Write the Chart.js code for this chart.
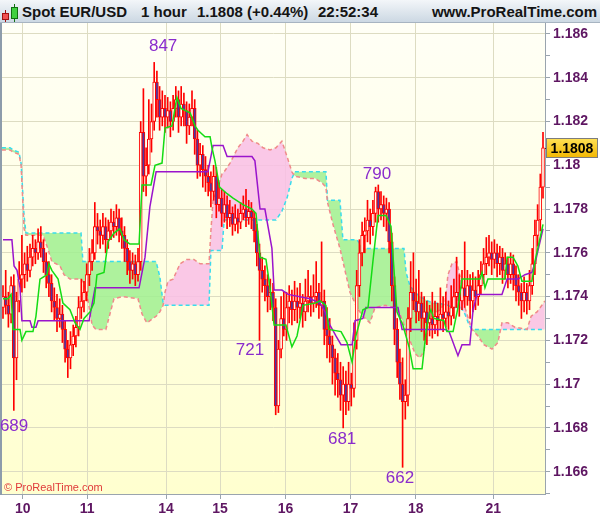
<!DOCTYPE html>
<html>
<head>
<meta charset="utf-8">
<title>Spot EUR/USD - 1 hour</title>
<script src="https://cdn.jsdelivr.net/npm/chart.js@4.4.1/dist/chart.umd.min.js"></script>
<style>
  html, body { margin: 0; padding: 0; background: #fff; }
  #box { position: relative; width: 600px; height: 519px; overflow: hidden; background: #fff; }
  #chart { position: absolute; left: 0; top: 0; }
  #head {
    position: absolute; left: 0; top: 0; width: 600px; height: 22px; z-index: 2;
    background: linear-gradient(#f3f6f9, #ccd8e3); border-bottom: 1px solid #a7b4c1;
    font: bold 15px "Liberation Sans", Arial, sans-serif; color: #141414;
  }
  #head span { position: absolute; top: 3px; line-height: 17px; white-space: nowrap; }
  .ico { position: absolute; box-sizing: border-box; }
</style>
</head>
<body>
<div id="box">
  <canvas id="chart" width="600" height="519"></canvas>
  <div id="head">
    <div class="ico" style="left:5px;top:10px;width:1px;height:12px;background:#a01010"></div>
    <div class="ico" style="left:2px;top:13px;width:7px;height:7px;background:#f05050;border:1px solid #a01010"></div>
    <div class="ico" style="left:14px;top:4px;width:1px;height:18px;background:#107010"></div>
    <div class="ico" style="left:11px;top:7px;width:7px;height:12px;background:#40d040;border:1px solid #107010"></div>
    <span style="left:22px">Spot EUR/USD</span>
    <span style="left:141px">1 hour</span>
    <span id="quote" style="left:197px"></span>
    <span style="left:318px">22:52:34</span>
    <span style="right:3px">www.ProRealTime.com</span>
  </div>
</div>
<script>
// ---- hourly candles (bar 0 .. 200) ----
const opens = [
  1.1735,1.1740,1.1736,1.1732,1.1745,1.1712,1.1738,1.1748,1.1750,1.1755,
  1.1752,1.1758,1.1762,1.1760,1.1765,1.1762,1.1756,1.1750,1.1746,1.1738,
  1.1735,1.1730,1.1732,1.1725,1.1716,1.1712,1.1718,1.1722,1.1726,1.1735,
  1.1738,1.1742,1.1750,1.1756,1.1760,1.1772,1.1770,1.1768,1.1772,1.1766,
  1.1770,1.1774,1.1772,1.1776,1.1770,1.1768,1.1762,1.1756,1.1752,1.1755,
  1.1750,1.1756,1.1815,1.1795,1.1800,1.1812,1.1820,1.1838,1.1830,1.1822,
  1.1826,1.1822,1.1825,1.1820,1.1826,1.1830,1.1822,1.1828,1.1825,1.1818,
  1.1822,1.1826,1.1812,1.1800,1.1805,1.1798,1.1795,1.1792,1.1788,1.1795,
  1.1782,1.1785,1.1778,1.1782,1.1776,1.1778,1.1773,1.1776,1.1774,1.1778,
  1.1780,1.1776,1.1779,1.1776,1.1770,1.1760,1.1752,1.1748,1.1745,1.1740,
  1.1742,1.1735,1.1690,1.1716,1.1730,1.1725,1.1735,1.1738,1.1734,1.1738,
  1.1735,1.1737,1.1733,1.1738,1.1740,1.1737,1.1740,1.1742,1.1736,1.1738,
  1.1725,1.1722,1.1718,1.1712,1.1705,1.1702,1.1695,1.1700,1.1692,1.1700,
  1.1698,1.1720,1.1745,1.1760,1.1768,1.1770,1.1775,1.1772,1.1778,1.1788,
  1.1780,1.1782,1.1778,1.1780,1.1765,1.1745,1.1725,1.1710,1.1700,1.1692,
  1.1695,1.1730,1.1742,1.1738,1.1733,1.1737,1.1730,1.1733,1.1728,1.1730,
  1.1727,1.1731,1.1729,1.1732,1.1730,1.1733,1.1731,1.1735,1.1740,1.1742,
  1.1738,1.1744,1.1740,1.1745,1.1738,1.1743,1.1740,1.1745,1.1750,1.1755,
  1.1758,1.1760,1.1757,1.1760,1.1755,1.1758,1.1752,1.1755,1.1750,1.1755,
  1.1750,1.1745,1.1742,1.1738,1.1742,1.1738,1.1745,1.1755,1.1768,1.1775,
  1.1790
];
const highs = [
  1.1745,1.1752,1.1742,1.1749,1.1750,1.1742,1.1756,1.1768,1.1760,1.1763,
  1.1764,1.1768,1.1766,1.1771,1.1772,1.1766,1.1760,1.1756,1.1750,1.1744,
  1.1741,1.1739,1.1736,1.1729,1.1720,1.1724,1.1727,1.1731,1.1740,1.1748,
  1.1747,1.1755,1.1762,1.1766,1.1783,1.1778,1.1775,1.1778,1.1776,1.1775,
  1.1780,1.1779,1.1782,1.1780,1.1776,1.1772,1.1766,1.1761,1.1760,1.1759,
  1.1762,1.1820,1.1835,1.1808,1.1830,1.1828,1.1847,1.1843,1.1836,1.1834,
  1.1832,1.1831,1.1829,1.1832,1.1836,1.1834,1.1836,1.1833,1.1829,1.1828,
  1.1834,1.1830,1.1816,1.1810,1.1809,1.1804,1.1800,1.1797,1.1800,1.1799,
  1.1792,1.1789,1.1788,1.1786,1.1784,1.1781,1.1782,1.1780,1.1783,1.1786,
  1.1789,1.1784,1.1783,1.1779,1.1773,1.1764,1.1758,1.1754,1.1750,1.1748,
  1.1746,1.1739,1.1720,1.1740,1.1742,1.1742,1.1745,1.1743,1.1747,1.1744,
  1.1746,1.1741,1.1748,1.1752,1.1745,1.1750,1.1756,1.1746,1.1765,1.1743,
  1.1735,1.1730,1.1722,1.1716,1.1714,1.1710,1.1708,1.1706,1.1710,1.1705,
  1.1728,1.1752,1.1766,1.1774,1.1776,1.1784,1.1780,1.1784,1.1790,1.1791,
  1.1788,1.1786,1.1785,1.1783,1.1769,1.1749,1.1730,1.1716,1.1712,1.1702,
  1.1735,1.1756,1.1760,1.1748,1.1752,1.1742,1.1740,1.1738,1.1736,1.1742,
  1.1738,1.1737,1.1744,1.1740,1.1742,1.1738,1.1745,1.1748,1.1758,1.1750,
  1.1752,1.1765,1.1752,1.1750,1.1751,1.1749,1.1752,1.1756,1.1762,1.1767,
  1.1768,1.1765,1.1766,1.1764,1.1763,1.1762,1.1760,1.1758,1.1760,1.1759,
  1.1754,1.1750,1.1746,1.1749,1.1746,1.1752,1.1762,1.1775,1.1782,1.1796,
  1.1815
];
const lows = [
  1.1730,1.1732,1.1726,1.1728,1.1688,1.1702,1.1733,1.1742,1.1744,1.1747,
  1.1749,1.1754,1.1755,1.1757,1.1758,1.1751,1.1744,1.1740,1.1733,1.1729,
  1.1724,1.1726,1.1719,1.1710,1.1703,1.1707,1.1713,1.1717,1.1722,1.1730,
  1.1733,1.1738,1.1745,1.1752,1.1757,1.1764,1.1762,1.1764,1.1760,1.1762,
  1.1766,1.1767,1.1768,1.1765,1.1762,1.1756,1.1750,1.1746,1.1748,1.1745,
  1.1747,1.1752,1.1788,1.1786,1.1796,1.1806,1.1816,1.1822,1.1816,1.1818,
  1.1815,1.1817,1.1813,1.1816,1.1822,1.1815,1.1818,1.1818,1.1810,1.1814,
  1.1818,1.1805,1.1794,1.1795,1.1790,1.1788,1.1786,1.1781,1.1784,1.1776,
  1.1779,1.1772,1.1774,1.1771,1.1772,1.1768,1.1770,1.1769,1.1771,1.1775,
  1.1772,1.1773,1.1771,1.1765,1.1754,1.1720,1.1742,1.1738,1.1733,1.1734,
  1.1729,1.1686,1.1687,1.1712,1.1722,1.1720,1.1728,1.1727,1.1729,1.1728,
  1.1730,1.1726,1.1729,1.1733,1.1731,1.1733,1.1735,1.1730,1.1731,1.1718,
  1.1712,1.1710,1.1700,1.1695,1.1694,1.1688,1.1680,1.1686,1.1688,1.1690,
  1.1694,1.1716,1.1740,1.1754,1.1760,1.1765,1.1764,1.1768,1.1774,1.1774,
  1.1775,1.1772,1.1770,1.1760,1.1738,1.1718,1.1703,1.1693,1.1662,1.1684,
  1.1690,1.1724,1.1734,1.1728,1.1729,1.1724,1.1720,1.1718,1.1722,1.1721,
  1.1723,1.1722,1.1725,1.1724,1.1726,1.1725,1.1727,1.1730,1.1735,1.1731,
  1.1734,1.1735,1.1736,1.1730,1.1733,1.1734,1.1736,1.1741,1.1746,1.1750,
  1.1754,1.1750,1.1753,1.1749,1.1750,1.1746,1.1748,1.1744,1.1746,1.1743,
  1.1738,1.1736,1.1730,1.1733,1.1732,1.1734,1.1741,1.1750,1.1763,1.1770,
  1.1785
];
const closes = [
  1.1740,1.1736,1.1732,1.1745,1.1712,1.1738,1.1748,1.1750,1.1755,1.1752,
  1.1758,1.1762,1.1760,1.1765,1.1762,1.1756,1.1750,1.1746,1.1738,1.1735,
  1.1730,1.1732,1.1725,1.1716,1.1712,1.1718,1.1722,1.1726,1.1735,1.1738,
  1.1742,1.1750,1.1756,1.1760,1.1772,1.1770,1.1768,1.1772,1.1766,1.1770,
  1.1774,1.1772,1.1776,1.1770,1.1768,1.1762,1.1756,1.1752,1.1755,1.1750,
  1.1756,1.1815,1.1795,1.1800,1.1812,1.1820,1.1838,1.1830,1.1822,1.1826,
  1.1822,1.1825,1.1820,1.1826,1.1830,1.1822,1.1828,1.1825,1.1818,1.1822,
  1.1826,1.1812,1.1800,1.1805,1.1798,1.1795,1.1792,1.1788,1.1795,1.1782,
  1.1785,1.1778,1.1782,1.1776,1.1778,1.1773,1.1776,1.1774,1.1778,1.1780,
  1.1776,1.1779,1.1776,1.1770,1.1760,1.1752,1.1748,1.1745,1.1740,1.1742,
  1.1735,1.1690,1.1716,1.1730,1.1725,1.1735,1.1738,1.1734,1.1738,1.1735,
  1.1737,1.1733,1.1738,1.1740,1.1737,1.1740,1.1742,1.1736,1.1738,1.1725,
  1.1722,1.1718,1.1712,1.1705,1.1702,1.1695,1.1700,1.1692,1.1700,1.1698,
  1.1720,1.1745,1.1760,1.1768,1.1770,1.1775,1.1772,1.1778,1.1788,1.1780,
  1.1782,1.1778,1.1780,1.1765,1.1745,1.1725,1.1710,1.1700,1.1692,1.1695,
  1.1730,1.1742,1.1738,1.1733,1.1737,1.1730,1.1733,1.1728,1.1730,1.1727,
  1.1731,1.1729,1.1732,1.1730,1.1733,1.1731,1.1735,1.1740,1.1742,1.1738,
  1.1744,1.1740,1.1745,1.1738,1.1743,1.1740,1.1745,1.1750,1.1755,1.1758,
  1.1760,1.1757,1.1760,1.1755,1.1758,1.1752,1.1755,1.1750,1.1755,1.1750,
  1.1745,1.1742,1.1738,1.1742,1.1738,1.1745,1.1755,1.1768,1.1775,1.1790,
  1.1808
];

// ---- Ichimoku lines, vertices (bar index, price) ----
const tenkanBar = [0,1.9,3.0,3.7,6.3,7.0,8.5,11.1,12.2,13.7,16.3,17.0,18.1,20.4,22.2,24.8,26.7,28.5,30.0,32.2,
  33.7,34.8,37.4,38.9,41.1,43.3,44.8,47.0,50.4,51.5,54.8,56.3,58.9,60.0,62.6,64.4,65.9,69.3,71.1,72.2,
  74.8,76.7,77.4,78.5,80.2,83.0,85.2,88.9,92.2,93.7,95.2,97.4,98.9,100.4,104.8,107.0,108.9,111.1,115.6,117.4,
  119.6,120.7,125.2,127.4,129.3,130.7,133.3,135.2,137.0,138.9,141.9,143.7,145.9,148.1,150.4,151.9,155.2,156.7,157.8,158.5,
  159.6,163.3,164.4,166.7,168.5,170.0,176.7,177.4,178.5,179.6,185.9,186.7,188.9,190.7,192.2,195.9,197.0,200.0];
const tenkanVal = [1.1739,1.1739,1.1741,1.1725,1.1725,1.1720,1.1724,1.1724,1.1731,1.1748,1.1750,1.1755,1.1752,1.1748,1.1737,1.1734,1.1728,1.1725,1.1730,1.1733,
  1.1737,1.1750,1.1751,1.1765,1.1769,1.1771,1.1766,1.1764,1.1764,1.1791,1.1791,1.1800,1.1801,1.1817,1.1818,1.1831,1.1826,1.1824,1.1818,1.1816,
  1.1813,1.1813,1.1808,1.1802,1.1790,1.1787,1.1785,1.1782,1.1780,1.1778,1.1758,1.1757,1.1744,1.1727,1.1727,1.1717,1.1722,1.1736,1.1737,1.1738,
  1.1736,1.1725,1.1724,1.1719,1.1710,1.1722,1.1734,1.1735,1.1756,1.1777,1.1777,1.1772,1.1733,1.1727,1.1717,1.1707,1.1707,1.1724,1.1732,1.1734,
  1.1730,1.1729,1.1724,1.1724,1.1735,1.1748,1.1748,1.1751,1.1744,1.1748,1.1748,1.1758,1.1758,1.1754,1.1747,1.1747,1.1756,1.1773];

const kijunBar = [0,3.3,4.1,5.2,6.3,7.0,10.0,10.7,12.2,13.0,31.9,34.1,50.4,52.6,54.4,56.7,75.9,77.8,81.5,83.0,
  92.2,93.3,95.2,97.0,99.6,100.4,103.3,105.6,113.7,117.4,119.3,121.1,123.3,125.2,129.3,130.4,133.3,134.4,146.3,147.8,
  163.7,165.2,168.5,170.0,172.9,174.1,175.6,184.8,186.7,190.7,193.3,195.9,197.4,200.0];
const kijunVal = [1.1766,1.1766,1.1754,1.1752,1.1744,1.1729,1.1729,1.1726,1.1726,1.1729,1.1729,1.1744,1.1744,1.1758,1.1781,1.1797,1.1797,1.1809,1.1809,1.1804,
  1.1804,1.1802,1.1780,1.1780,1.1762,1.1743,1.1743,1.1741,1.1739,1.1737,1.1733,1.1727,1.1722,1.1718,1.1718,1.1729,1.1730,1.1735,1.1735,1.1725,
  1.1725,1.1724,1.1713,1.1718,1.1718,1.1734,1.1741,1.1741,1.1748,1.1748,1.1750,1.1751,1.1757,1.1771];

const cloudBar = [-0.4,2.6,3.7,5.9,6.7,7.8,8.5,14.8,16.3,18.1,21.1,22.6,24.8,28.9,29.6,31.1,33.0,34.4,38.1,39.6,
  41.1,44.1,50.0,51.5,53.3,56.7,58.1,59.3,60.0,61.1,63.0,65.6,68.1,70.7,73.0,76.3,77.0,77.8,79.6,81.1,
  81.9,84.1,87.0,88.9,90.4,92.2,94.4,96.3,98.9,101.1,103.3,105.2,107.0,108.1,111.9,115.6,118.1,119.6,120.2,122.2,
  124.8,125.9,128.5,131.1,133.3,135.9,137.8,141.5,145.2,147.0,148.5,149.3,150.7,152.6,154.4,155.9,157.4,159.3,161.9,163.7,
  164.8,166.3,168.1,169.6,171.1,172.6,173.7,175.9,178.1,181.1,183.3,184.8,187.0,189.6,194.1,195.6,197.8,200.7];
const spanA = [1.1808,1.1808,1.1807,1.1806,1.1801,1.1777,1.1769,1.1769,1.1769,1.1769,1.1769,1.1769,1.1769,1.1769,1.1756,1.1756,1.1756,1.1756,1.1756,1.1756,
  1.1756,1.1756,1.1756,1.1756,1.1756,1.1756,1.1749,1.1737,1.1736,1.1736,1.1736,1.1736,1.1736,1.1736,1.1736,1.1736,1.1761,1.1761,1.1761,1.1761,
  1.1775,1.1775,1.1775,1.1775,1.1775,1.1775,1.1775,1.1775,1.1775,1.1775,1.1779,1.1785,1.1794,1.1797,1.1797,1.1797,1.1797,1.1797,1.1784,1.1784,
  1.1784,1.1766,1.1766,1.1766,1.1762,1.1762,1.1762,1.1762,1.1762,1.1762,1.1762,1.1751,1.1745,1.1742,1.1740,1.1739,1.1738,1.1737,1.1737,1.1736,
  1.1736,1.1735,1.1735,1.1735,1.1732,1.1727,1.1725,1.1725,1.1725,1.1725,1.1725,1.1725,1.1725,1.1725,1.1725,1.1725,1.1725,1.1725];
const spanB = [1.1807,1.1807,1.1806,1.1805,1.1800,1.1771,1.1768,1.1768,1.1763,1.1756,1.1754,1.1750,1.1748,1.1748,1.1747,1.1741,1.1727,1.1725,1.1725,1.1732,
  1.1739,1.1740,1.1739,1.1732,1.1728,1.1731,1.1733,1.1736,1.1742,1.1747,1.1748,1.1755,1.1757,1.1757,1.1755,1.1755,1.1770,1.1784,1.1790,1.1796,
  1.1797,1.1801,1.1808,1.1811,1.1814,1.1811,1.1810,1.1808,1.1807,1.1808,1.1811,1.1804,1.1797,1.1795,1.1794,1.1794,1.1792,1.1790,1.1783,1.1773,
  1.1762,1.1756,1.1742,1.1735,1.1731,1.1728,1.1735,1.1736,1.1735,1.1732,1.1727,1.1724,1.1720,1.1714,1.1712,1.1715,1.1727,1.1732,1.1734,1.1737,
  1.1750,1.1755,1.1756,1.1747,1.1735,1.1729,1.1725,1.1722,1.1718,1.1716,1.1719,1.1728,1.1728,1.1726,1.1725,1.1731,1.1733,1.1738];

// ---- axis labels and swing annotations ----
const dayBars = [7.3, 31.2, 60.4, 80.4, 104.6, 128.7, 152.9, 181.6];
const dayLabels = ['10', '11', '14', '15', '16', '17', '18', '21'];
const swingText = ['689', '847', '721', '681', '790', '662'];
const swingBar = [4.1, 59.3, 91.5, 125.6, 138.5, 147.0];
const swingPrice = [1.16809, 1.18545, 1.17156, 1.16749, 1.1796, 1.16571];

const lastClose = closes[closes.length - 1];
document.getElementById('quote').textContent = lastClose.toFixed(4) + ' (+0.44%)';

const FONT = '"Liberation Sans", Arial, sans-serif';
const AXIS_INK = '#5e1662';
const pts = (xs, ys) => xs.map((x, k) => ({ x: x, y: ys[k] }));

const decor = {
  id: 'decor',
  beforeDraw(chart) {
    const { ctx, chartArea: a } = chart;
    ctx.save();
    ctx.fillStyle = '#ffffff';
    ctx.fillRect(0, 0, chart.width, chart.height);
    const g = ctx.createLinearGradient(0, a.top, 0, a.bottom);
    g.addColorStop(0, '#fffff6');
    g.addColorStop(1, '#ffffcf');
    ctx.fillStyle = g;
    ctx.fillRect(a.left, a.top, a.right - a.left, a.bottom - a.top);
    ctx.fillStyle = '#8d9cab';
    ctx.fillRect(0, a.top, 2, a.bottom - a.top + 1);
    ctx.restore();
  },
  afterDatasetsDraw(chart) {
    const { ctx, chartArea: a, scales } = chart;
    ctx.save();
    ctx.font = '17px ' + FONT;
    ctx.fillStyle = '#8a2ccc';
    ctx.textAlign = 'center';
    ctx.textBaseline = 'middle';
    swingText.forEach((t, k) => {
      ctx.fillText(t, scales.x.getPixelForValue(swingBar[k]), scales.y.getPixelForValue(swingPrice[k]));
    });
    ctx.font = '11px ' + FONT;
    ctx.fillStyle = '#e03a3a';
    ctx.textAlign = 'left';
    ctx.textBaseline = 'alphabetic';
    ctx.fillText('\u00a9 ProRealTime.com', a.left + 2, a.bottom - 3);
    ctx.restore();
  },
  afterDraw(chart) {
    const { ctx, chartArea: a, scales } = chart;
    const y = Math.round(scales.y.getPixelForValue(lastClose));
    ctx.save();
    ctx.fillStyle = '#333';
    ctx.fillRect(a.right, y, 5, 1);
    const g = ctx.createLinearGradient(0, y - 10, 0, y + 10);
    g.addColorStop(0, '#ffe257');
    g.addColorStop(1, '#f2b600');
    ctx.fillStyle = g;
    ctx.fillRect(a.right + 1, y - 10, 52, 20);
    ctx.strokeStyle = '#7d7d7d';
    ctx.lineWidth = 1;
    ctx.strokeRect(a.right + 1.5, y - 9.5, 51, 19);
    ctx.fillStyle = '#000';
    ctx.font = 'bold 14px ' + FONT;
    ctx.textAlign = 'center';
    ctx.textBaseline = 'middle';
    ctx.fillText(lastClose.toFixed(4), a.right + 27, y + 1);
    ctx.restore();
  }
};

const barIdx = closes.map((c, i) => i);

new Chart(document.getElementById('chart'), {
  type: 'line',
  data: {
    datasets: [
      {
        label: 'Senkou A',
        data: pts(cloudBar, spanA),
        borderColor: '#3adcec',
        borderWidth: 1.5,
        borderDash: [4, 3],
        pointRadius: 0,
        tension: 0,
        fill: { target: 1, above: 'rgba(160,240,145,0.85)', below: 'rgba(249,190,230,0.85)' },
        order: 10
      },
      {
        label: 'Senkou B',
        data: pts(cloudBar, spanB),
        borderColor: '#f08a8a',
        borderWidth: 1.5,
        borderDash: [4, 3],
        pointRadius: 0,
        tension: 0,
        fill: false,
        order: 9
      },
      {
        type: 'bar',
        label: 'wicks',
        data: barIdx.map(i => ({ x: i, y: [lows[i], highs[i]] })),
        backgroundColor: '#ff0000',
        borderWidth: 0,
        barThickness: 1,
        grouped: false,
        order: 6
      },
      {
        type: 'bar',
        label: 'bodies',
        data: barIdx.map(i => ({ x: i, y: [opens[i], closes[i]] })),
        backgroundColor: c => closes[c.dataIndex] < opens[c.dataIndex] ? '#4a38a4' : '#fffff0',
        borderColor: '#ff0000',
        borderWidth: 1,
        borderSkipped: false,
        minBarLength: 1,
        barThickness: 3,
        grouped: false,
        order: 5
      },
      {
        label: 'Kijun',
        data: pts(kijunBar, kijunVal),
        borderColor: '#9a14cc',
        borderWidth: 1.5,
        pointRadius: 0,
        tension: 0,
        fill: false,
        order: 2
      },
      {
        label: 'Tenkan',
        data: pts(tenkanBar, tenkanVal),
        borderColor: '#14dc14',
        borderWidth: 1.5,
        pointRadius: 0,
        tension: 0,
        fill: false,
        order: 1
      }
    ]
  },
  options: {
    responsive: false,
    animation: false,
    devicePixelRatio: 1,
    layout: { padding: { top: 23, left: 2, right: 0, bottom: 0 } },
    plugins: { legend: { display: false }, tooltip: { enabled: false } },
    scales: {
      x: {
        type: 'linear',
        min: -0.37,
        max: 200.74,
        offset: false,
        afterFit: s => { s.height = 25; },
        afterBuildTicks: s => { s.ticks = dayBars.map(v => ({ value: v })); },
        grid: { offset: false, color: '#dddcc2', tickColor: '#9aa4ae', tickLength: 5 },
        border: { color: '#9aa4ae' },
        ticks: {
          autoSkip: false, maxRotation: 0, padding: 2,
          color: AXIS_INK,
          font: { family: FONT, size: 14, weight: 'bold' },
          callback: (v, i) => dayLabels[i]
        }
      },
      y: {
        position: 'right',
        min: 1.16498,
        max: 1.18650,
        afterFit: s => { s.width = 55; },
        grid: {
          color: c => (Math.round(c.tick.value * 1000) % 2 === 0 ? '#dddcc2' : 'rgba(0,0,0,0)'),
          tickColor: '#9aa4ae',
          tickLength: 5
        },
        border: { color: '#9aa4ae' },
        ticks: {
          stepSize: 0.001,
          maxTicksLimit: 40,
          includeBounds: false,
          padding: 3,
          color: AXIS_INK,
          font: { family: FONT, size: 14, weight: 'bold' },
          callback: v => (Math.round(v * 1000) % 2 === 0 ? String(parseFloat(v.toFixed(3))) : '')
        }
      }
    }
  },
  plugins: [decor]
});
</script>
</body>
</html>
